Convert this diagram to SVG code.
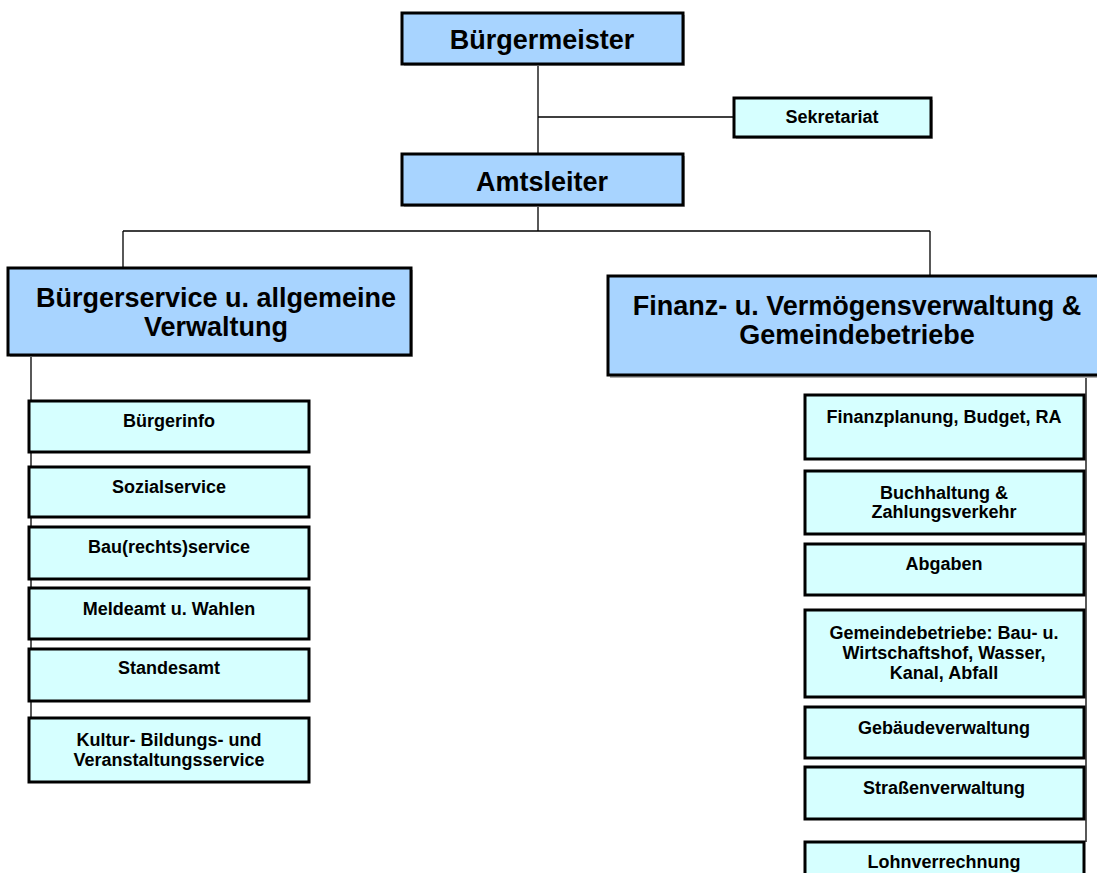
<svg xmlns="http://www.w3.org/2000/svg" width="1097" height="873" viewBox="0 0 1097 873">
<style>
.big{fill:#a8d4ff;stroke:#000;stroke-width:3}
.small{fill:#d6ffff;stroke:#000;stroke-width:3}
.sh{fill:#b0b0b0}
.t1{font-family:"Liberation Sans",Arial,sans-serif;font-weight:bold;font-size:27px;text-anchor:middle;fill:#000}
.t2{font-family:"Liberation Sans",Arial,sans-serif;font-weight:bold;font-size:18px;text-anchor:middle;fill:#000}
.ln{stroke:#000;stroke-width:1.3;fill:none}
</style>
<rect width="1097" height="873" fill="#fff"/>
<g id="connectors">
<path class="ln" d="M538,64 V154 M538,117 H734 M538,206 V231 M123,231 H930 M123,231 V268 M930,231 V276 M31,355 V718 M1086,376 V842"/>
</g>
<g id="buergermeister">
<rect class="sh" x="404" y="15" width="281" height="51"/>
<rect class="big" x="402" y="13" width="281" height="51"/>
<text class="t1" x="542" y="49">Bürgermeister</text>
</g>
<g id="sekretariat">
<rect class="sh" x="736" y="100" width="197" height="39"/>
<rect class="small" x="734" y="98" width="197" height="39"/>
<text class="t2" x="832" y="123">Sekretariat</text>
</g>
<g id="amtsleiter">
<rect class="sh" x="404" y="156" width="281" height="51"/>
<rect class="big" x="402" y="154" width="281" height="51"/>
<text class="t1" x="542" y="191">Amtsleiter</text>
</g>
<g id="buergerservice">
<rect class="sh" x="10" y="270" width="403" height="87"/>
<rect class="big" x="8" y="268" width="403" height="87"/>
<text class="t1" x="216" y="307">Bürgerservice u. allgemeine</text>
<text class="t1" x="216" y="336">Verwaltung</text>
</g>
<g id="finanz">
<rect class="sh" x="610" y="278" width="500" height="100"/>
<rect class="big" x="608" y="276" width="500" height="99"/>
<text class="t1" x="857" y="315">Finanz- u. Vermögensverwaltung &amp;</text>
<text class="t1" x="857" y="344">Gemeindebetriebe</text>
</g>
<g id="buergerinfo">
<rect class="small" x="29" y="401" width="280" height="51"/>
<text class="t2" x="169" y="427">Bürgerinfo</text>
</g>
<g id="sozialservice">
<rect class="small" x="29" y="467" width="280" height="50"/>
<text class="t2" x="169" y="493">Sozialservice</text>
</g>
<g id="bauservice">
<rect class="small" x="29" y="527" width="280" height="52"/>
<text class="t2" x="169" y="553">Bau(rechts)service</text>
</g>
<g id="meldeamt">
<rect class="small" x="29" y="588" width="280" height="51"/>
<text class="t2" x="169" y="615">Meldeamt u. Wahlen</text>
</g>
<g id="standesamt">
<rect class="small" x="29" y="649" width="280" height="52"/>
<text class="t2" x="169" y="674">Standesamt</text>
</g>
<g id="kultur">
<rect class="small" x="29" y="718" width="280" height="64"/>
<text class="t2" x="169" y="746">Kultur- Bildungs- und</text>
<text class="t2" x="169" y="766">Veranstaltungsservice</text>
</g>
<g id="finanzplanung">
<rect class="small" x="805" y="395" width="279" height="64"/>
<text class="t2" x="944" y="423">Finanzplanung, Budget, RA</text>
</g>
<g id="buchhaltung">
<rect class="small" x="805" y="471" width="279" height="63"/>
<text class="t2" x="944" y="499">Buchhaltung &amp;</text>
<text class="t2" x="944" y="518">Zahlungsverkehr</text>
</g>
<g id="abgaben">
<rect class="small" x="805" y="544" width="279" height="51"/>
<text class="t2" x="944" y="570">Abgaben</text>
</g>
<g id="gemeindebetriebe">
<rect class="small" x="805" y="610" width="279" height="87"/>
<text class="t2" x="944" y="639">Gemeindebetriebe: Bau- u.</text>
<text class="t2" x="944" y="659">Wirtschaftshof, Wasser,</text>
<text class="t2" x="944" y="679">Kanal, Abfall</text>
</g>
<g id="gebaeudeverwaltung">
<rect class="small" x="805" y="707" width="279" height="51"/>
<text class="t2" x="944" y="734">Gebäudeverwaltung</text>
</g>
<g id="strassenverwaltung">
<rect class="small" x="805" y="767" width="279" height="52"/>
<text class="t2" x="944" y="794">Straßenverwaltung</text>
</g>
<g id="lohnverrechnung">
<rect class="small" x="805" y="842" width="279" height="50"/>
<text class="t2" x="944" y="868">Lohnverrechnung</text>
</g>
</svg>
